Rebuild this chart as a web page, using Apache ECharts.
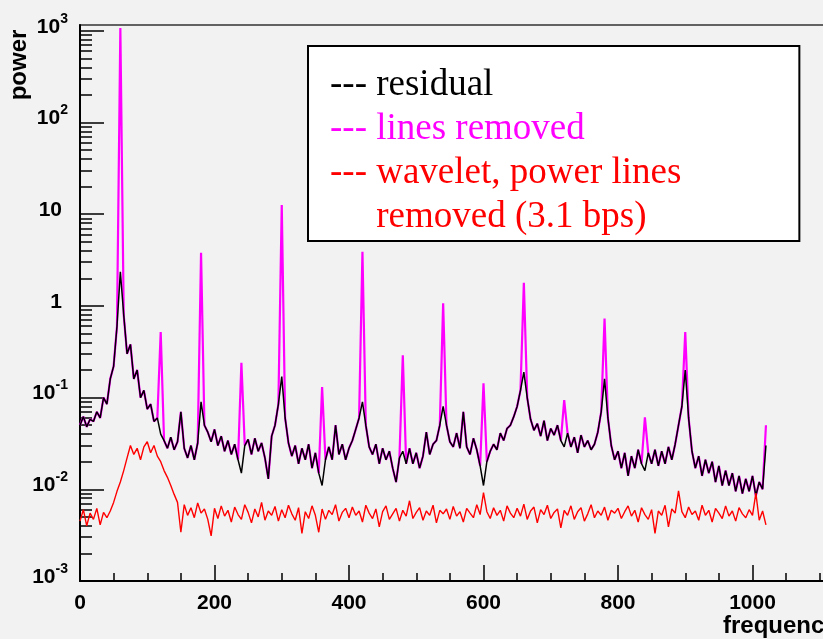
<!DOCTYPE html>
<html>
<head>
<meta charset="utf-8">
<script src="https://cdn.jsdelivr.net/npm/echarts@6/dist/echarts.min.js"></script>
<style>
html, body { margin: 0; padding: 0; background: #f2f2f2; }
#chart { width: 823px; height: 639px; }
</style>
</head>
<body>
<div id="chart"></div>
<script>
// spectrum sampled every 5 Hz, 0..1020
var freqStep = 5;

// black: residual after removing the power lines
var residual = [
    0.05, 0.062, 0.048, 0.058, 0.055, 0.07, 0.06, 0.1, 0.085, 0.16, 0.22, 0.6, 2.36, 0.8, 0.3, 0.38, 0.16, 0.2, 0.1, 0.12,
    0.075, 0.085, 0.055, 0.06, 0.04, 0.034, 0.028, 0.037, 0.027, 0.033, 0.07, 0.028, 0.022, 0.03, 0.021, 0.032, 0.09, 0.05, 0.042, 0.033,
    0.045, 0.03, 0.038, 0.026, 0.034, 0.024, 0.031, 0.021, 0.015, 0.03, 0.035, 0.024, 0.036, 0.026, 0.032, 0.022, 0.013, 0.038, 0.05, 0.085,
    0.17, 0.06, 0.032, 0.023, 0.03, 0.019, 0.028, 0.021, 0.031, 0.017, 0.025, 0.015, 0.011, 0.021, 0.029, 0.021, 0.05, 0.024, 0.031, 0.021,
    0.028, 0.034, 0.045, 0.06, 0.09, 0.05, 0.029, 0.024, 0.031, 0.019, 0.028, 0.021, 0.026, 0.017, 0.012, 0.022, 0.026, 0.019, 0.028, 0.019,
    0.025, 0.017, 0.023, 0.042, 0.024, 0.031, 0.034, 0.05, 0.08, 0.05, 0.033, 0.029, 0.041, 0.028, 0.07, 0.029, 0.024, 0.036, 0.027, 0.018,
    0.011, 0.02, 0.026, 0.031, 0.027, 0.041, 0.034, 0.046, 0.05, 0.062, 0.08, 0.12, 0.19, 0.1, 0.058, 0.044, 0.052, 0.038, 0.056, 0.034,
    0.046, 0.039, 0.05, 0.034, 0.029, 0.041, 0.029, 0.037, 0.025, 0.039, 0.029, 0.034, 0.027, 0.031, 0.042, 0.07, 0.16, 0.06, 0.03, 0.021,
    0.026, 0.017, 0.025, 0.014, 0.023, 0.017, 0.027, 0.019, 0.016, 0.025, 0.019, 0.027, 0.018, 0.026, 0.019, 0.029, 0.021, 0.031, 0.05, 0.08,
    0.2, 0.06, 0.026, 0.017, 0.023, 0.014, 0.021, 0.015, 0.02, 0.012, 0.018, 0.011, 0.016, 0.011, 0.015, 0.0095, 0.014, 0.009, 0.013, 0.0095,
    0.014, 0.0085, 0.012, 0.01, 0.03
];

// red: wavelet denoised, power lines removed
var wavelet = [
    0.0045, 0.006, 0.004, 0.0055, 0.0047, 0.0062, 0.0041, 0.0056, 0.0049, 0.0058, 0.0072, 0.0095, 0.012, 0.016, 0.022, 0.03, 0.024, 0.028, 0.021, 0.029,
    0.033, 0.025, 0.03, 0.023, 0.02, 0.016, 0.0135, 0.011, 0.0088, 0.0072, 0.0034, 0.0068, 0.0052, 0.0063, 0.0049, 0.0071, 0.0055, 0.0061, 0.0047, 0.0031,
    0.0062, 0.0048, 0.0066, 0.0051, 0.0059, 0.0044, 0.0064, 0.0053, 0.0047, 0.0068, 0.0056, 0.0043, 0.0061, 0.005, 0.0072, 0.0046, 0.0058, 0.0052, 0.0065, 0.0045,
    0.006, 0.0049, 0.0067, 0.0054, 0.0046, 0.0063, 0.0033, 0.0057, 0.0048, 0.0066, 0.0052, 0.0034, 0.0061, 0.0047, 0.0059, 0.0053, 0.0068, 0.0045, 0.0056, 0.0062,
    0.0049, 0.0064, 0.0052, 0.0058, 0.0044, 0.0067, 0.0055, 0.0048, 0.0061, 0.0039, 0.0057, 0.0066, 0.0047, 0.0054, 0.0062, 0.0045, 0.0059, 0.0051, 0.0075, 0.0048,
    0.0056, 0.0063, 0.0046, 0.0058, 0.0052, 0.0067, 0.0043, 0.0059, 0.0054, 0.0061, 0.0047, 0.0065, 0.0051, 0.0057, 0.0044, 0.0062, 0.0055, 0.0049, 0.0068, 0.0053,
    0.0092, 0.0057, 0.0048, 0.0063, 0.0052, 0.0059, 0.0045, 0.0066, 0.0055, 0.0049, 0.0062, 0.0051, 0.0069, 0.0047, 0.0058, 0.0064, 0.0043, 0.006, 0.0053, 0.0067,
    0.0048, 0.0056, 0.0061, 0.0038, 0.0059, 0.0052, 0.0066, 0.0047, 0.0057, 0.0063, 0.0045, 0.0054, 0.0068, 0.0049, 0.0058, 0.0052, 0.0064, 0.0046, 0.0059, 0.0055,
    0.0062, 0.0048, 0.0057, 0.0066, 0.0051, 0.0059, 0.0044, 0.0063, 0.0053, 0.0047, 0.006, 0.0033, 0.0058, 0.0052, 0.0067, 0.0039, 0.0061, 0.0055, 0.0096, 0.0057,
    0.0049, 0.0064, 0.0053, 0.0058, 0.0046, 0.0067, 0.0052, 0.0059, 0.0044, 0.0062, 0.0055, 0.0048, 0.0066, 0.0051, 0.0058, 0.0045, 0.0063, 0.0054, 0.0049, 0.006,
    0.0052, 0.0091, 0.0046, 0.0058, 0.0041
];

// magenta: power line harmonics before removal
var lineFreqs = [60, 120, 180, 240, 300, 360, 420, 480, 540, 600, 660, 720, 780, 840, 900, 1020];
var linePeaks = [1070, 0.52, 3.8, 0.24, 12.6, 0.13, 3.9, 0.29, 1.07, 0.143, 1.79, 0.094, 0.73, 0.061, 0.52, 0.05];

var decades = [-3, -2, -1, 0, 1, 2, 3];
var minorMantissas = [2, 3, 4, 5, 6, 7, 8, 9];

var legendNames = ['residual', 'lines removed', 'wavelet, power lines removed (3.1 bps)'];
var legendLabels = ['--- residual', '--- lines removed', '--- wavelet, power lines\n     removed (3.1 bps)'];
var legendColors = ['#000000', '#ff00ff', '#ff0000'];

function toPairs(values) {
    return values.map(function (v, i) {
        return [i * freqStep, v];
    });
}

var residualData = toPairs(residual);
var linesData = toPairs(residual);
lineFreqs.forEach(function (f, k) {
    linesData[f / freqStep][1] = linePeaks[k];
});
var waveletData = toPairs(wavelet);

var minorTicks = [];
decades.slice(0, -1).forEach(function (d) {
    minorMantissas.forEach(function (m) {
        minorTicks.push(d + Math.log10(m));
    });
});

var font = 'Liberation Sans';
var yTop = Math.log10(1157);

var chart = echarts.init(document.getElementById('chart'));
var option = {
    animation: false,
    backgroundColor: '#f2f2f2',
    grid: {
        left: 80,
        top: 25,
        right: -64,
        bottom: 58,
        outerBoundsMode: 'none',
        containLabel: false,
        show: true,
        borderColor: '#333',
        borderWidth: 1.5,
        backgroundColor: 'transparent'
    },
    xAxis: {
        type: 'value',
        min: 0,
        max: 1200,
        interval: 200,
        axisLine: { onZero: false, lineStyle: { color: '#000', width: 2 } },
        axisTick: { inside: true, length: 16, lineStyle: { color: '#000', width: 1.5 } },
        minorTick: { show: true, splitNumber: 4, length: 8, lineStyle: { color: '#000', width: 1.5 } },
        splitLine: { show: false },
        axisLabel: {
            margin: 12, fontSize: 21, fontWeight: 'bold', fontFamily: font, color: '#000',
            formatter: function (v) { return String(v); }
        }
    },
    yAxis: [{
        type: 'log',
        logBase: 10,
        min: 0.001,
        max: 1157,
        axisLine: { show: true, onZero: false, lineStyle: { color: '#000', width: 2 } },
        axisTick: { show: false },
        axisLabel: { show: false },
        splitLine: { show: false }
    }, {
        type: 'value',
        min: -3,
        max: yTop,
        position: 'left',
        axisLine: { show: false, onZero: false },
        axisTick: { show: true, inside: true, length: 24, customValues: decades, lineStyle: { color: '#000', width: 1.5 } },
        splitLine: { show: false },
        axisLabel: {
            customValues: decades,
            margin: 12,
            padding: [0, 0, 8, 0],
            formatter: function (v) {
                v = Math.round(v);
                if (v === 0) return '{p|1}';
                if (v === 1) return '{p|10}';
                return '{b|10}{s|' + v + '}';
            },
            rich: {
                b: { fontSize: 21, fontWeight: 'bold', fontFamily: font, color: '#000', lineHeight: 30 },
                p: { fontSize: 21, fontWeight: 'bold', fontFamily: font, color: '#000', lineHeight: 30, padding: [0, 6, 0, 0] },
                s: { fontSize: 14, fontWeight: 'bold', fontFamily: font, color: '#000', lineHeight: 14, verticalAlign: 'top' }
            }
        }
    }, {
        type: 'value',
        min: -3,
        max: yTop,
        position: 'left',
        axisLine: { show: false, onZero: false },
        axisTick: { show: true, inside: true, length: 12, customValues: minorTicks, lineStyle: { color: '#000', width: 1.5 } },
        axisLabel: { show: false },
        splitLine: { show: false }
    }],
    legend: {
        orient: 'vertical',
        left: 308,
        top: 46,
        backgroundColor: '#ffffff',
        borderColor: '#000',
        borderWidth: 2,
        borderRadius: 0,
        padding: [17, 118, 2, 17],
        itemGap: 0,
        itemWidth: 0,
        itemHeight: 10,
        icon: 'none',
        selectedMode: false,
        formatter: function (name) {
            return legendLabels[legendNames.indexOf(name)];
        },
        textStyle: { fontFamily: 'Liberation Serif', fontSize: 37, lineHeight: 44 },
        data: legendNames.map(function (n, i) {
            return { name: n, textStyle: { color: legendColors[i] } };
        })
    },
    graphic: [{
        type: 'text',
        x: 19,
        y: 65,
        rotation: Math.PI / 2,
        style: {
            text: 'power',
            fontSize: 24,
            fontWeight: 'bold',
            fontFamily: font,
            fill: '#000',
            align: 'center',
            verticalAlign: 'middle'
        }
    }, {
        type: 'text',
        x: 723,
        y: 626,
        style: {
            text: 'frequency',
            fontSize: 24,
            fontWeight: 'bold',
            fontFamily: font,
            fill: '#000',
            align: 'left',
            verticalAlign: 'middle'
        }
    }],
    series: [{
        name: 'lines removed',
        type: 'line',
        yAxisIndex: 0,
        data: linesData,
        showSymbol: false,
        lineStyle: { color: '#ff00ff', width: 2.2 },
        itemStyle: { color: '#ff00ff' },
        z: 2
    }, {
        name: 'residual',
        type: 'line',
        yAxisIndex: 0,
        data: residualData,
        showSymbol: false,
        lineStyle: { color: '#000000', width: 1.5 },
        itemStyle: { color: '#000000' },
        z: 3
    }, {
        name: 'wavelet, power lines removed (3.1 bps)',
        type: 'line',
        yAxisIndex: 0,
        data: waveletData,
        showSymbol: false,
        lineStyle: { color: '#ff0000', width: 1.4 },
        itemStyle: { color: '#ff0000' },
        z: 4
    }]
};
chart.setOption(option);
</script>
</body>
</html>
